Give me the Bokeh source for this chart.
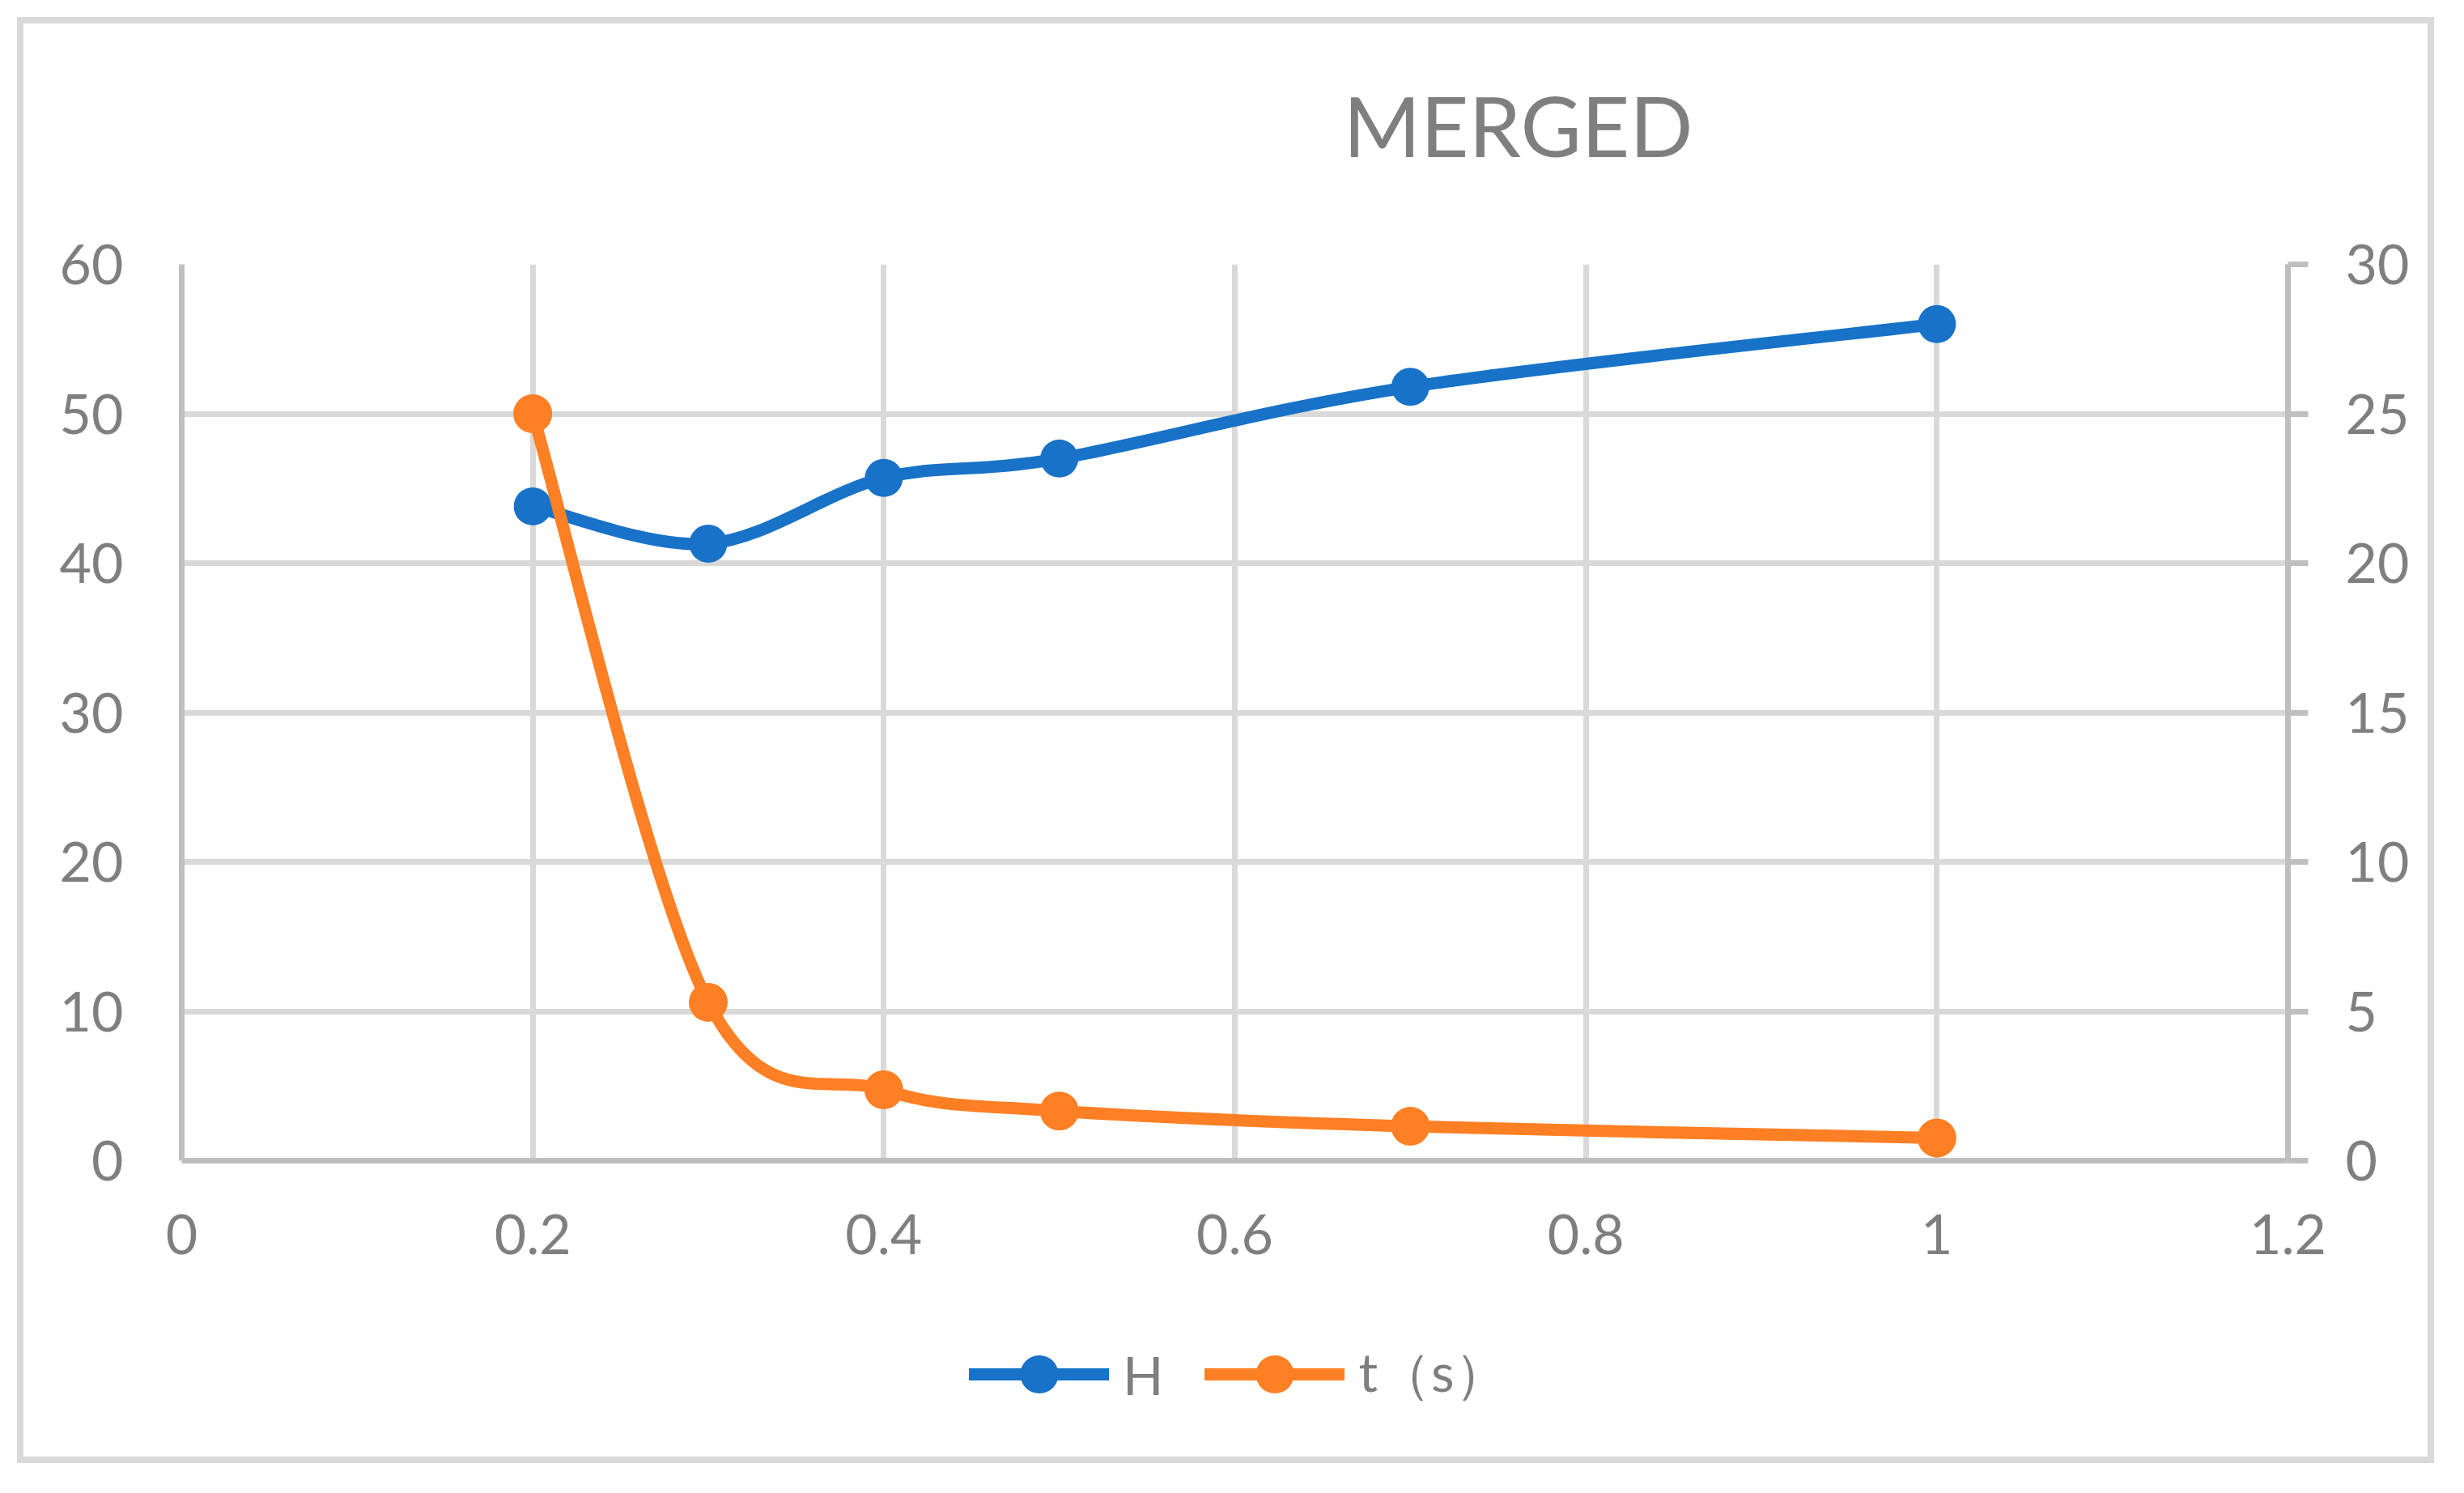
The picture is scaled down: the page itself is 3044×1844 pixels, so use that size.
from bokeh.plotting import figure
from bokeh.models import (LinearAxis, Range1d, FixedTicker, Legend, LegendItem,
                          ColumnDataSource, Label)
from bokeh.layouts import column
from bokeh.embed import file_html
from bokeh.resources import INLINE

# ---- data ----
x_vals = [0.2, 0.3, 0.4, 0.5, 0.7, 1.0]
h_vals = [43.8, 41.3, 45.7, 47.0, 51.8, 56.0]
t_vals = [25.0, 5.3, 2.37, 1.66, 1.15, 0.76]

x_ticks = [0, 0.2, 0.4, 0.6, 0.8, 1.0, 1.2]
x_tick_labels = ["0", "0.2", "0.4", "0.6", "0.8", "1", "1.2"]
left_ticks = [0, 10, 20, 30, 40, 50, 60]
right_ticks = [0, 5, 10, 15, 20, 25, 30]

title_text = "MERGED"
series_names = ["H", "t（s）"]

BLUE = "#1772C8"
ORANGE = "#FF7F24"
TEXT = "#7f7f7f"
GRID = "#d9d9d9"
AXIS = "#bfbfbf"
FONT = "Lato"
LW = 15
MS_H, MS_T = 47, 48

W = 3028
BL, BR = 224, 202               # left / right borders around the plot frame
H_TITLE, H_MAIN, H_LEG = 276, 1324, 228
TOP_MAIN = 50                   # frame top inside the main figure

def strip(height, x_range, y_range):
    f = figure(width=W, height=height, output_backend="svg", toolbar_location=None,
               x_axis_type=None, y_axis_type=None, x_range=x_range, y_range=y_range,
               min_border_left=BL, min_border_right=BR, min_border_top=0,
               min_border_bottom=0, outline_line_color=None,
               background_fill_alpha=0, border_fill_alpha=0)
    f.grid.visible = False
    return f

# ---- main chart ----
p = figure(width=W, height=H_MAIN, output_backend="svg", toolbar_location=None,
           x_range=Range1d(0, 1.2), y_range=Range1d(0, 60),
           min_border_left=BL, min_border_right=BR, min_border_top=TOP_MAIN,
           min_border_bottom=H_MAIN - TOP_MAIN - 1107, background_fill_color="white",
           border_fill_color="white", border_fill_alpha=0,
           outline_line_color=None)
p.extra_y_ranges = {"t": Range1d(0, 30)}

def style_axis(ax, ticks, standoff, tick_out=0):
    ax.ticker = FixedTicker(ticks=ticks)
    ax.axis_line_color = AXIS
    ax.axis_line_width = 7
    ax.major_tick_line_color = AXIS
    ax.major_tick_line_width = 7
    ax.major_tick_out = tick_out
    ax.major_tick_in = 0
    ax.minor_tick_line_color = None
    ax.major_label_text_color = TEXT
    ax.major_label_text_font = FONT
    ax.major_label_text_font_size = "68px"
    ax.major_label_standoff = standoff

xa = p.xaxis[0]
style_axis(xa, x_ticks, 66)
xa.major_label_overrides = {t: l for t, l in zip(x_ticks, x_tick_labels)}

ya = p.yaxis[0]
style_axis(ya, left_ticks, 72)

ra = LinearAxis(y_range_name="t")
style_axis(ra, right_ticks, 46, tick_out=25)
p.add_layout(ra, "right")

p.xgrid.ticker = FixedTicker(ticks=x_ticks[1:-1])
p.ygrid.ticker = FixedTicker(ticks=left_ticks[1:])
for g in (p.xgrid[0], p.ygrid[0]):
    g.grid_line_color = GRID
    g.grid_line_width = 7

# right boundary line at x = 1.2
p.vspan(x=[x_ticks[-1]], line_color=AXIS, line_width=7)

# smooth (Catmull-Rom as cubic Bezier) segments
def bezier_source(xs, ys):
    n = len(xs)
    px = [xs[0]] + list(xs) + [xs[-1]]
    py = [ys[0]] + list(ys) + [ys[-1]]
    d = dict(x0=[], y0=[], x1=[], y1=[], cx0=[], cy0=[], cx1=[], cy1=[])
    for i in range(1, n):
        x0, y0 = px[i], py[i]
        x1, y1 = px[i + 1], py[i + 1]
        d["x0"].append(x0); d["y0"].append(y0)
        d["x1"].append(x1); d["y1"].append(y1)
        d["cx0"].append(x0 + (px[i + 1] - px[i - 1]) / 6.0)
        d["cy0"].append(y0 + (py[i + 1] - py[i - 1]) / 6.0)
        d["cx1"].append(x1 - (px[i + 2] - px[i]) / 6.0)
        d["cy1"].append(y1 - (py[i + 2] - py[i]) / 6.0)
    return ColumnDataSource(d)

p.bezier(x0="x0", y0="y0", x1="x1", y1="y1", cx0="cx0", cy0="cy0",
         cx1="cx1", cy1="cy1", source=bezier_source(x_vals, h_vals),
         line_color=BLUE, line_width=LW, line_cap="round")
p.scatter(x_vals, h_vals, size=MS_H, fill_color=BLUE, line_color=BLUE, line_width=0)

p.bezier(x0="x0", y0="y0", x1="x1", y1="y1", cx0="cx0", cy0="cy0",
         cx1="cx1", cy1="cy1", source=bezier_source(x_vals, t_vals),
         line_color=ORANGE, line_width=LW, line_cap="round", y_range_name="t")
p.scatter(x_vals, t_vals, size=MS_T, fill_color=ORANGE, line_color=ORANGE,
          line_width=0, y_range_name="t")

# ---- title strip (shares the chart's x scale) ----
tt = strip(H_TITLE, p.x_range, Range1d(0, H_TITLE))
tt.add_layout(Label(x=0.7614, y=H_TITLE - 153, text=title_text, text_align="center",
                    text_baseline="alphabetic", text_font=FONT,
                    text_font_size="103px", text_color=TEXT))

# ---- legend strip; series drawn outside its view, only the legend shows ----
q = strip(H_LEG, Range1d(0, 1.2), Range1d(-2, -1))
hl = q.line(x_vals, h_vals, line_color=BLUE, line_width=LW, line_cap="round")
hm = q.scatter(x_vals, h_vals, size=MS_H, fill_color=BLUE, line_color=BLUE, line_width=0)
tl = q.line(x_vals, t_vals, line_color=ORANGE, line_width=LW, line_cap="round")
tm = q.scatter(x_vals, t_vals, size=MS_T, fill_color=ORANGE, line_color=ORANGE, line_width=0)

legend = Legend(items=[LegendItem(label=series_names[0], renderers=[hl, hm]),
                       LegendItem(label=series_names[1], renderers=[tl, tm])],
                orientation="horizontal", location=(1197 - BL, 72),
                glyph_width=173, glyph_height=118, label_standoff=17, spacing=51,
                padding=0, margin=0, border_line_color=None,
                background_fill_alpha=0,
                label_text_font=FONT, label_text_font_size="66px",
                label_text_color=TEXT)
q.add_layout(legend, "center")

layout = column(tt, p, q, spacing=0)
# outer chart border: inset shadow band around the whole chart
layout.styles = {"box-shadow": "inset 0 0 0 21px #ffffff, inset 0 0 0 29px #d9d9d9",
                 "background-color": "#ffffff"}

open("out.html", "w").write(file_html(layout, INLINE))
